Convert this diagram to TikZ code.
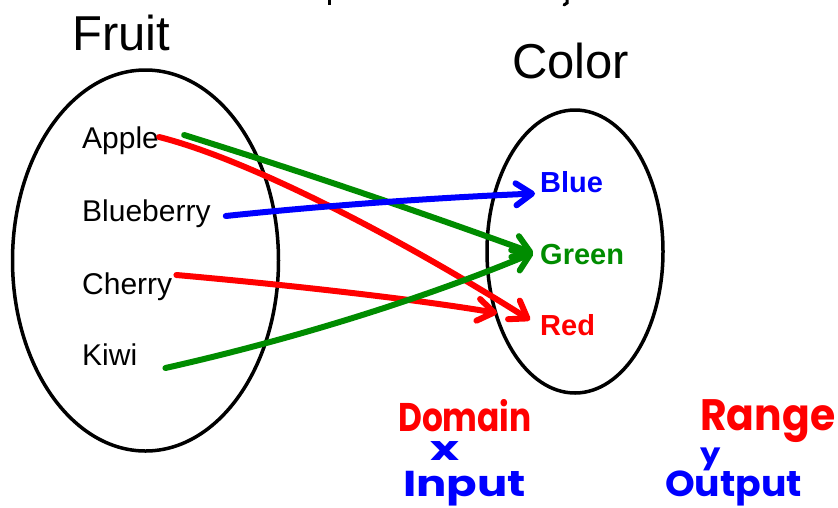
\documentclass[tikz,border=0pt]{standalone}
\usepackage{fontspec}
\setmainfont{Liberation Sans}
\newfontfamily\hand{Poppins}
\usetikzlibrary{arrows.meta,shapes.geometric}

\begin{document}
\begin{tikzpicture}[x=1pt,y=-1pt,
  setring/.style={ellipse, draw=black, line width=3.5pt, inner sep=0pt},
  title/.style={font=\fontsize{49}{55}\selectfont, anchor=base west, inner sep=0pt},
  item/.style={font=\fontsize{30}{34}\selectfont, anchor=base west, inner sep=0pt},
  hue/.style={font=\fontsize{29}{33}\selectfont\bfseries, anchor=base west, inner sep=0pt},
  ink/.style={font=\hand\bfseries\fontsize{40}{44}\selectfont, anchor=base west, inner sep=0pt},
  smallink/.style={ink, font=\hand\bfseries\fontsize{36}{40}\selectfont},
  pen/.style={line width=6pt, line cap=round, line join=round,
    -{Straight Barb[length=16pt, width=22pt, line cap=round, line join=round]}},
]
\useasboundingbox (0,0) rectangle (838,507);

% descenders of a heading line that runs off the top edge
\draw[line width=3pt] (329,-2) -- (329,5);
\draw[line width=3pt, line cap=round] (567,-2) -- (567,3) -- (564,5);

% the two sets
\node[setring, minimum width=266pt, minimum height=381pt] (fruitset) at (145.5,260.5) {};
\node[setring, minimum width=176pt, minimum height=283pt] (colorset) at (575,251.5) {};

\node[title] (fruit) at (72,50) {Fruit};
\node[title] (color) at (512,78) {Color};

% domain elements
\node[item] (apple) at (82,148) {Apple};
\node[item] (blueberry) at (82,221) {Blueberry};
\node[item] (cherry) at (82,294) {Cherry};
\node[item] (kiwi) at (82,365) {Kiwi};

% range elements
\node[hue, text={rgb,255:red,0;green,0;blue,255}] (blue) at (540,192.5) {Blue};
\node[hue, text={rgb,255:red,0;green,140;blue,0}] (green) at (540,264) {Green};
\node[hue, text={rgb,255:red,255;green,0;blue,0}] (red) at (540,335) {Red};

% mapping arrows
\draw[pen, draw={rgb,255:red,0;green,140;blue,0}]
  ([xshift=25pt,yshift=13pt]apple.base east) .. controls (300,171) and (420,212) .. ([xshift=-7pt,yshift=11pt]green.base west);
\draw[pen, draw={rgb,255:red,255;green,0;blue,0}]
  ([yshift=11pt]apple.base east) .. controls (250,160) and (400,238) .. ([xshift=-10pt,yshift=15pt]red.base west);
\draw[pen, draw={rgb,255:red,0;green,0;blue,255}]
  ([xshift=15pt,yshift=5pt]blueberry.base east) .. controls (320,206) and (430,198) .. ([xshift=-5pt,yshift=-1pt]blue.base west);
\draw[pen, draw={rgb,255:red,255;green,0;blue,0}]
  ([xshift=4pt,yshift=19pt]cherry.base east) .. controls (300,286) and (420,300) .. ([xshift=-43pt,yshift=22pt]red.base west);
\draw[pen, draw={rgb,255:red,0;green,140;blue,0}]
  ([xshift=28pt,yshift=-3pt]kiwi.base east) .. controls (290,340) and (420,300) .. ([xshift=-7pt,yshift=11pt]green.base west);

% handwritten notes
\node[ink, text={rgb,255:red,255;green,0;blue,0}] (domain) at (398,431) {\scalebox{0.82}[1]{Domain}};
\node[ink, text={rgb,255:red,0;green,0;blue,255}, font=\hand\bfseries\fontsize{34}{38}\selectfont] (xvar) at (430,460) {\scalebox{1.45}[1]{x}};
\node[smallink, text={rgb,255:red,0;green,0;blue,255}] (input) at (403,496) {\scalebox{1.25}[1]{Input}};
\node[ink, text={rgb,255:red,255;green,0;blue,0}, font=\hand\bfseries\fontsize{44}{48}\selectfont] (range) at (700,430) {\scalebox{0.93}[1]{Range}};
\node[ink, text={rgb,255:red,0;green,0;blue,255}, font=\hand\bfseries\fontsize{28}{32}\selectfont] (yvar) at (700,463) {\scalebox{1.15}[1]{y}};
\node[smallink, text={rgb,255:red,0;green,0;blue,255}] (output) at (665,496) {\scalebox{1.05}[1]{Output}};
\end{tikzpicture}
\end{document}
